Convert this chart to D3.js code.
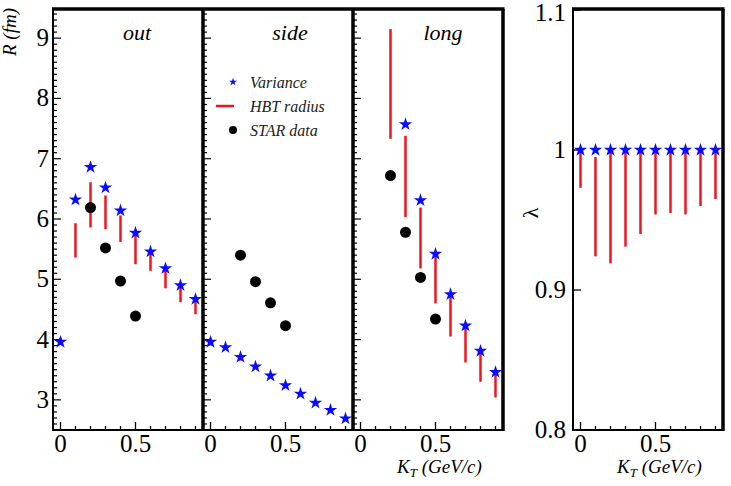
<!DOCTYPE html>
<html>
<head>
<meta charset="utf-8">
<script src="https://cdn.jsdelivr.net/npm/d3@7"></script>
<style>
  body { margin: 0; background: white; }
</style>
</head>
<body>
<div id="container"></div>
<script>
let w = 731;
let h = 486;

// data
let kt = [0, 0.1, 0.2, 0.3, 0.4, 0.5, 0.6, 0.7, 0.8, 0.9];
let panels = ["out", "side", "long"];

let varOut = [3.96, 6.32, 6.86, 6.52, 6.14, 5.77, 5.46, 5.18, 4.9, 4.67];
let varSide = [3.96, 3.87, 3.71, 3.55, 3.4, 3.24, 3.1, 2.95, 2.83, 2.69];
let varLong = [null, null, null, 7.57, 6.31, 5.42, 4.75, 4.23, 3.81, 3.46];

let hbtOutLo = [3.92, 5.36, 5.86, 5.83, 5.62, 5.25, 5.14, 4.85, 4.62, 4.42];
let hbtOutHi = [4.03, 5.93, 6.61, 6.39, 6.06, 5.75, 5.44, 5.17, 4.88, 4.67];
let hbtSideLo = [3.9, 3.84, 3.65, 3.52, 3.37, 3.22, 3.08, 2.93, 2.81, 2.67];
let hbtSideHi = [4.02, 3.9, 3.76, 3.58, 3.43, 3.27, 3.12, 2.97, 2.85, 2.71];
let hbtLongLo = [null, null, 7.33, 6.03, 5.18, 4.6, 4.05, 3.62, 3.3, 3.04];
let hbtLongHi = [null, null, 9.15, 7.38, 6.19, 5.42, 4.75, 4.23, 3.81, 3.46];

let starKt = [0.2, 0.3, 0.4, 0.5];
let starOut = [6.19, 5.52, 4.97, 4.39];
let starSide = [5.4, 4.96, 4.61, 4.23];
let starLong = [6.72, 5.78, 5.03, 4.34];

let varLambda = [1, 1, 1, 1, 1, 1, 1, 1, 1, 1];
let hbtLambdaLo = [0.973, 0.924, 0.919, 0.931, 0.94, 0.954, 0.955, 0.954, 0.96, 0.965];
let hbtLambdaHi = [1, 0.995, 1, 1, 1, 1, 1, 1, 1, 1];

let rTicks = [3, 4, 5, 6, 7, 8, 9];
let lambdaTicks = [0.8, 0.9, 1, 1.1];
let xTicks = [0, 0.5];

let varData = [varOut, varSide, varLong];
let hbtLo = [hbtOutLo, hbtSideLo, hbtLongLo];
let hbtHi = [hbtOutHi, hbtSideHi, hbtLongHi];
let starData = [starOut, starSide, starLong];

let viz = d3.select("#container")
  .append("svg")
    .attr("width", w)
    .attr("height", h)
    .attr("font-family", "'Liberation Serif', 'Times New Roman', Times, 'DejaVu Serif', serif")
    .style("background-color", "white");

let yTop = 9;
let yBottom = 430;
let left = 53;
let pw = 150;
let red = "#f0141e";
let blue = "#0a0aff";

let yScale = d3.scaleLinear().domain([2.5, 9.5]).range([yBottom, yTop - 1]);
let minorY = d3.range(26, 95).map(d => d / 10);
let minorX = d3.range(0, 10).map(d => d / 10);

let star = d3.symbol().type(d3.symbolStar).size(55);
let starSmall = d3.symbol().type(d3.symbolStar).size(20);

viz.append("defs").append("clipPath").attr("id", "clipR")
  .append("rect").attr("x", left).attr("y", yTop).attr("width", pw * 3).attr("height", yBottom - yTop);

panels.forEach(function(name, p){
  let x0 = left + p * pw;
  let xScale = d3.scaleLinear().domain([-0.05, 0.95]).range([x0, x0 + pw]);
  let g = viz.append("g").attr("class", "panel");

  // x axis ticks (pointing up)
  g.selectAll(".xminor").data(minorX).enter().append("line")
    .attr("x1", d => xScale(d)).attr("x2", d => xScale(d))
    .attr("y1", yBottom).attr("y2", d => (Math.abs(d % 0.5) < 1e-9 ? yBottom - 8 : yBottom - 4))
    .attr("stroke", "black").attr("stroke-width", 1.3);
  g.selectAll(".xlab").data(xTicks).enter().append("text")
    .attr("x", d => xScale(d)).attr("y", 452)
    .attr("text-anchor", "middle").style("font-size", "25px")
    .text(d => d);

  // y ticks on left edge of each panel (pointing in)
  g.selectAll(".yminor").data(minorY).enter().append("line")
    .attr("x1", x0).attr("x2", d => (Math.abs(d - Math.round(d)) < 1e-9 ? x0 + 8 : x0 + 4))
    .attr("y1", d => yScale(d)).attr("y2", d => yScale(d))
    .attr("stroke", "black").attr("stroke-width", 1.2);

  g.append("text")
    .attr("x", x0 + (p == 0 ? 84 : p == 1 ? 87 : 90)).attr("y", 40)
    .attr("text-anchor", "middle")
    .style("font-size", "22px").style("font-style", "italic")
    .text(name);

  let marks = g.append("g").attr("clip-path", "url(#clipR)");

  // HBT radius ranges
  marks.selectAll(".hbt").data(kt.map((k, i) => [k, hbtLo[p][i], hbtHi[p][i]]).filter(d => d[1] != null))
    .enter().append("line")
      .attr("x1", d => xScale(d[0])).attr("x2", d => xScale(d[0]))
      .attr("y1", d => yScale(d[1])).attr("y2", d => yScale(d[2]))
      .attr("stroke", red).attr("stroke-width", 2.5);

  // variance stars
  marks.selectAll(".var").data(kt.map((k, i) => [k, varData[p][i]]).filter(d => d[1] != null))
    .enter().append("path")
      .attr("d", star)
      .attr("transform", d => "translate(" + xScale(d[0]) + "," + yScale(d[1]) + ")")
      .attr("fill", blue);

  // STAR data
  marks.selectAll(".star").data(starKt.map((k, i) => [k, starData[p][i]]))
    .enter().append("circle")
      .attr("cx", d => xScale(d[0])).attr("cy", d => yScale(d[1]))
      .attr("r", 5.5).attr("fill", "black");
});

// y labels of R
viz.selectAll(".rlab").data(rTicks).enter().append("text")
  .attr("x", 49).attr("y", d => yScale(d) + 8)
  .attr("text-anchor", "end").style("font-size", "25px")
  .text(d => d);

viz.append("text")
  .attr("transform", "translate(16,8) rotate(-90)")
  .attr("text-anchor", "end")
  .style("font-size", "19px").style("font-style", "italic")
  .text("R (fm)");

// frame of the three panels
let frame = viz.append("g");
frame.append("line").attr("x1", left).attr("x2", left).attr("y1", yTop).attr("y2", yBottom + 1)
  .attr("stroke", "black").attr("stroke-width", 2);
frame.append("line").attr("x1", left).attr("x2", left + 3 * pw).attr("y1", yBottom).attr("y2", yBottom)
  .attr("stroke", "black").attr("stroke-width", 2);
frame.append("line").attr("x1", left - 1).attr("x2", left + 3 * pw + 1.5).attr("y1", yTop).attr("y2", yTop)
  .attr("stroke", "black").attr("stroke-width", 3.5);
[1, 2, 3].forEach(function(k){
  frame.append("line").attr("x1", left + k * pw).attr("x2", left + k * pw)
    .attr("y1", yTop).attr("y2", yBottom + 1)
    .attr("stroke", "black").attr("stroke-width", 3.5);
});

// legend
let legend = viz.append("g").attr("transform", "translate(233,0)");
legend.append("path").attr("d", starSmall).attr("transform", "translate(0,82)").attr("fill", blue);
legend.append("line").attr("x1", -17).attr("x2", 1).attr("y1", 106).attr("y2", 106)
  .attr("stroke", red).attr("stroke-width", 2.5);
legend.append("circle").attr("cx", 0).attr("cy", 130).attr("r", 4).attr("fill", "black");
["Variance", "HBT radius", "STAR data"].forEach(function(t, i){
  legend.append("text").attr("x", 17).attr("y", 88 + i * 24)
    .style("font-size", "16px").style("font-style", "italic").style("fill", "#222")
    .text(t);
});

// KT labels
function ktLabel(x){
  let t = viz.append("text").attr("x", x).attr("y", 473)
    .style("font-size", "19px").style("font-style", "italic");
  t.append("tspan").text("K");
  t.append("tspan").attr("dy", 4).style("font-size", "13px").text("T");
  t.append("tspan").attr("dy", -4).text(" (GeV/c)");
}
ktLabel(397);
ktLabel(617);

// lambda panel
let lx0 = 573;
let lxScale = d3.scaleLinear().domain([-0.05, 0.95]).range([lx0, lx0 + pw]);
let lyScale = d3.scaleLinear().domain([0.8, 1.1]).range([yBottom, 10]);
let lg = viz.append("g");

lg.selectAll(".lxminor").data(minorX).enter().append("line")
  .attr("x1", d => lxScale(d)).attr("x2", d => lxScale(d))
  .attr("y1", yBottom).attr("y2", d => (Math.abs(d % 0.5) < 1e-9 ? yBottom - 8 : yBottom - 4))
  .attr("stroke", "black").attr("stroke-width", 1.3);
lg.selectAll(".lxlab").data(xTicks).enter().append("text")
  .attr("x", d => lxScale(d)).attr("y", 452)
  .attr("text-anchor", "middle").style("font-size", "25px")
  .text(d => d);

lg.selectAll(".lytick").data(lambdaTicks).enter().append("line")
  .attr("x1", lx0).attr("x2", lx0 + 8)
  .attr("y1", d => lyScale(d)).attr("y2", d => lyScale(d))
  .attr("stroke", "black").attr("stroke-width", 1.3);
// top label is kept inside the page
lg.selectAll(".lylab").data(lambdaTicks).enter().append("text")
  .attr("x", 566).attr("y", d => Math.max(lyScale(d) + 8, 21))
  .attr("text-anchor", "end").style("font-size", "25px")
  .text(d => d3.format("")(d));

lg.append("text")
  .attr("transform", "translate(538,213) rotate(-90)")
  .attr("text-anchor", "middle")
  .style("font-size", "22px")
  .text("λ");

lg.selectAll(".lhbt").data(kt.map((k, i) => [k, hbtLambdaLo[i], hbtLambdaHi[i]]))
  .enter().append("line")
    .attr("x1", d => lxScale(d[0])).attr("x2", d => lxScale(d[0]))
    .attr("y1", d => lyScale(d[1])).attr("y2", d => lyScale(d[2]))
    .attr("stroke", red).attr("stroke-width", 2.5);
lg.selectAll(".lvar").data(kt.map((k, i) => [k, varLambda[i]]))
  .enter().append("path")
    .attr("d", star)
    .attr("transform", d => "translate(" + lxScale(d[0]) + "," + lyScale(d[1]) + ")")
    .attr("fill", blue);

lg.append("line").attr("x1", lx0).attr("x2", lx0).attr("y1", yTop).attr("y2", yBottom + 1)
  .attr("stroke", "black").attr("stroke-width", 2);
lg.append("line").attr("x1", lx0).attr("x2", lx0 + pw).attr("y1", yBottom).attr("y2", yBottom)
  .attr("stroke", "black").attr("stroke-width", 2);
lg.append("line").attr("x1", lx0 - 1).attr("x2", lx0 + pw + 1.5).attr("y1", yTop).attr("y2", yTop)
  .attr("stroke", "black").attr("stroke-width", 3.5);
lg.append("line").attr("x1", lx0 + pw).attr("x2", lx0 + pw).attr("y1", yTop).attr("y2", yBottom + 1)
  .attr("stroke", "black").attr("stroke-width", 3.5);
</script>
</body>
</html>
